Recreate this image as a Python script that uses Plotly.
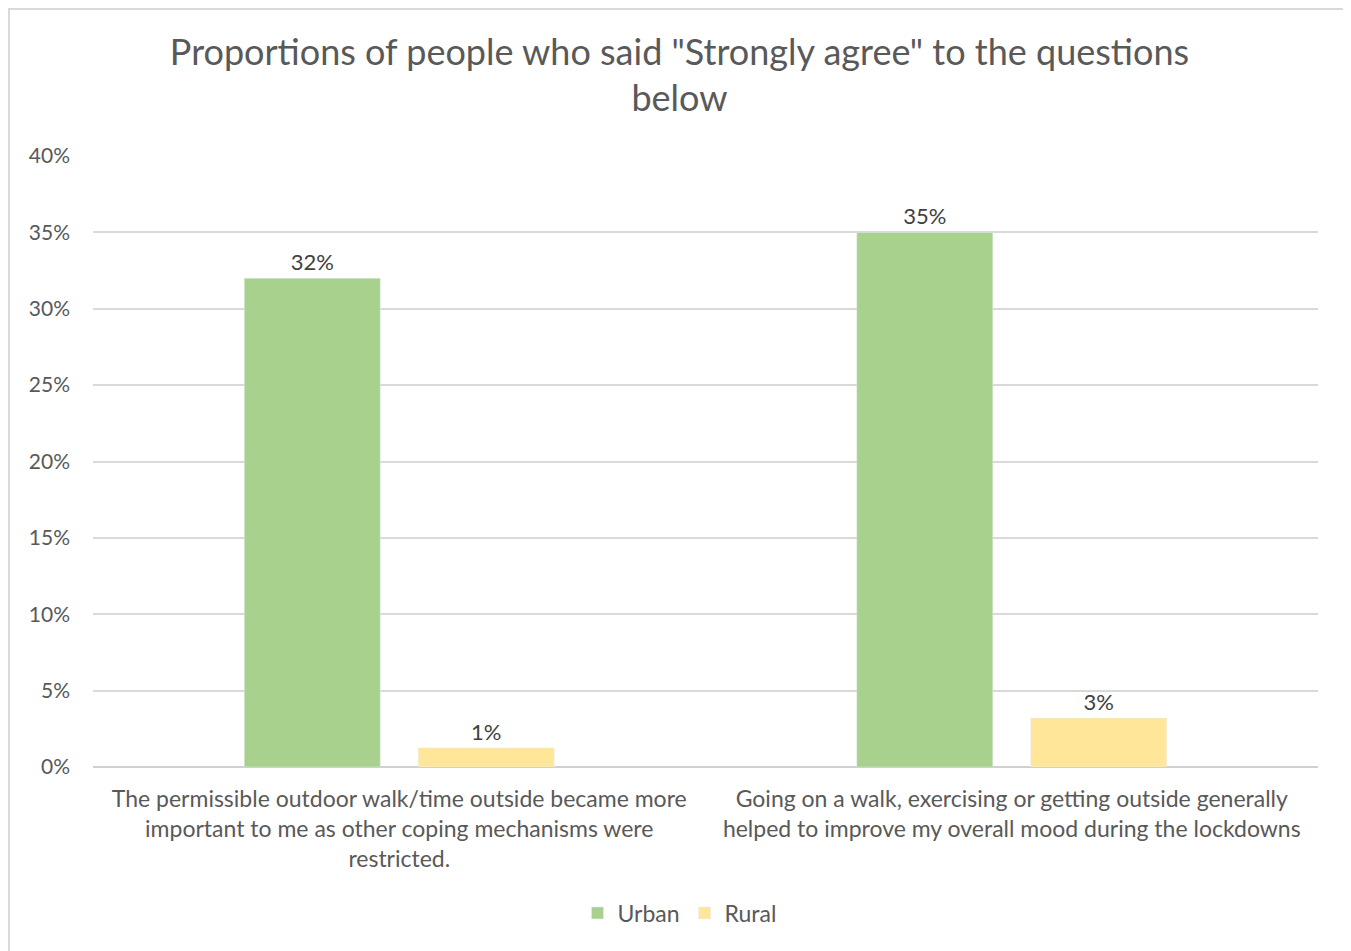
import plotly.graph_objects as go

categories = [
    "The permissible outdoor walk/time outside became more<br>important to me as other coping mechanisms were<br>restricted.",
    "Going on a walk, exercising or getting outside generally<br>helped to improve my overall mood during the lockdowns",
]
urban = [0.32, 0.35]
rural = [0.0125, 0.032]
urban_labels = ["32%", "35%"]
rural_labels = ["1%", "3%"]
y_ticks = [0, 0.05, 0.10, 0.15, 0.20, 0.25, 0.30, 0.35, 0.40]
y_ticklabels = ["0%", "5%", "10%", "15%", "20%", "25%", "30%", "35%", "40%"]

FONT = "Lato"
TXT = "#595959"

fig = go.Figure()
fig.add_trace(go.Bar(
    name="Urban", x=categories, y=urban, marker_color="#a9d18e",
    text=urban_labels, textposition="outside", cliponaxis=False,
    textfont=dict(size=22, color="#404040", family=FONT),
))
fig.add_trace(go.Bar(
    name="Rural", x=categories, y=rural, marker_color="#ffe699",
    text=rural_labels, textposition="outside", cliponaxis=False,
    textfont=dict(size=22, color="#404040", family=FONT),
))

fig.update_layout(
    width=1343, height=943,
    margin=dict(l=85, r=33, t=148, b=184),
    paper_bgcolor="white", plot_bgcolor="white",
    font=dict(family=FONT, color=TXT),
    title=dict(
        text='Proportions of people who said "Strongly agree" to the questions<br>below',
        x=0.5, xanchor="center", y=0.94, yanchor="top",
        font=dict(size=36, color=TXT, family=FONT),
    ),
    barmode="group", bargap=0.432, bargroupgap=0.218,
    showlegend=True,
    legend=dict(orientation="h", xref="container", x=0.5, xanchor="center",
                yref="container", y=(943 - 905) / 943, yanchor="middle",
                font=dict(size=23, color=TXT, family=FONT), traceorder="normal",
                itemwidth=30),
    shapes=[dict(type="rect", xref="paper", yref="paper", x0=-0.0686, x1=1.0245, y0=-0.35, y1=1.2406,
                 line=dict(color="#d9d9d9", width=2), fillcolor="rgba(0,0,0,0)")],
)
fig.update_yaxes(range=[0, 0.40], tickvals=y_ticks, ticktext=y_ticklabels,
                 showgrid=True, gridcolor="#d9d9d9", gridwidth=1.5, zeroline=True,
                 zerolinecolor="#d0d0d0", zerolinewidth=1.5, ticklabelstandoff=22,
                 tickfont=dict(size=21, color=TXT, family=FONT), ticks="", ticklen=0)
fig.update_xaxes(tickfont=dict(size=23, color=TXT, family=FONT), showline=False, ticks="",
                 ticklabelstandoff=16)

fig.write_html("out.html")
